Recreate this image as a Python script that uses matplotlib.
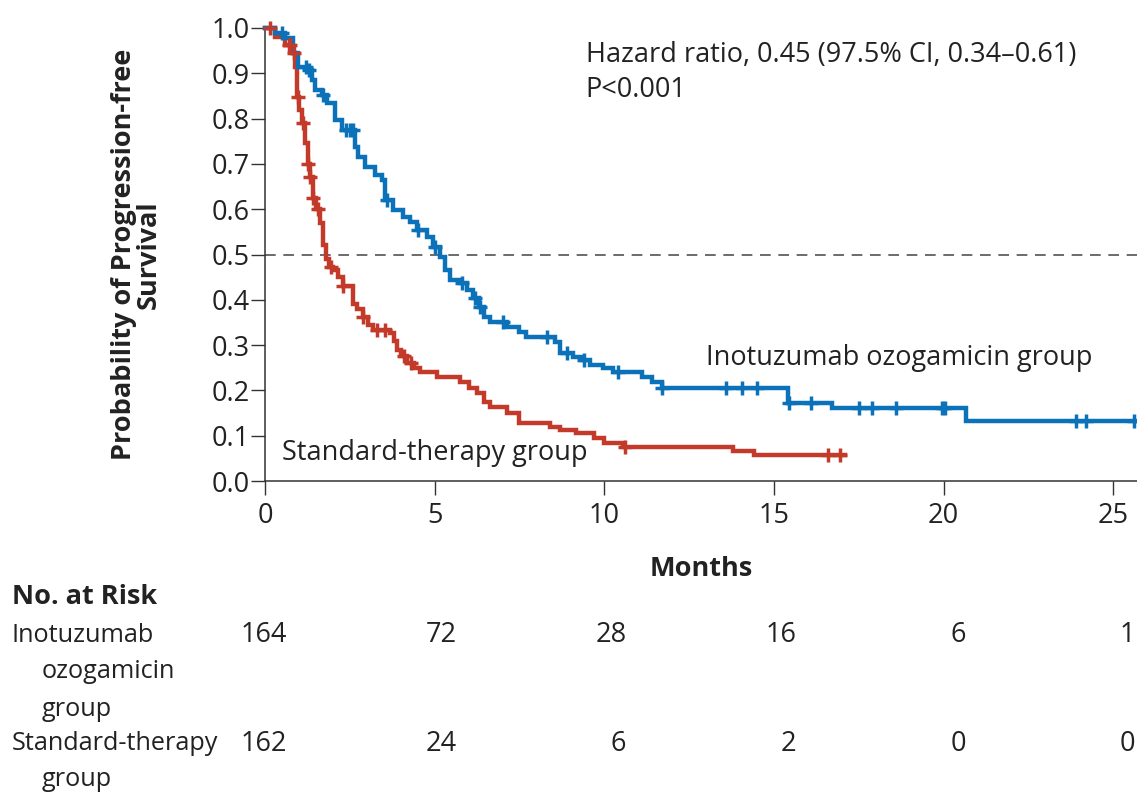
import numpy as np
import matplotlib
matplotlib.use("Agg")
import matplotlib.pyplot as plt

# ==========================================
# DATOS
# ==========================================

# Inotuzumab ozogamicin: tiempos de cada escalon y supervivencia
t_ino = [0, 0.3, 0.6, 0.82, 0.97, 1.24, 1.38, 1.47, 1.68, 1.83,
         2.06, 2.27, 2.65, 2.74, 2.95, 3.24, 3.45, 3.53, 3.77, 4.06,
         4.27, 4.48, 4.77, 4.95, 5.15, 5.3, 5.45, 5.74, 5.95, 6.13,
         6.3, 6.45, 6.63, 7.13, 7.5, 7.7, 8.54, 8.69, 9.07, 9.3,
         9.57, 9.96, 10.25, 11.1, 11.4, 11.7, 15.4, 16.7, 20.65]
s_ino = [1.0, 0.99, 0.978, 0.945, 0.914, 0.907, 0.885, 0.863, 0.852, 0.834,
         0.797, 0.775, 0.737, 0.715, 0.693, 0.675, 0.664, 0.62, 0.598, 0.583,
         0.572, 0.554, 0.539, 0.517, 0.494, 0.466, 0.444, 0.437, 0.422, 0.404,
         0.384, 0.362, 0.351, 0.340, 0.329, 0.318, 0.307, 0.283, 0.274, 0.267,
         0.256, 0.249, 0.241, 0.23, 0.219, 0.205, 0.172, 0.161, 0.133]
cens_ino = [0.5, 1.2, 1.3, 1.7, 2.4, 2.5, 2.6, 3.6, 4.5, 5.0, 5.8, 6.2,
            6.35, 7.0, 8.3, 8.9, 9.4, 10.4, 11.7, 13.6, 14.05, 14.5,
            15.44, 16.1, 17.5, 17.9, 18.6, 19.95, 20.05, 23.9, 24.2, 25.6]
fin_ino = 25.7

# Standard therapy
t_std = [0, 0.3, 0.6, 0.8, 0.88, 0.94, 1.0, 1.09, 1.18, 1.27,
         1.33, 1.41, 1.5, 1.62, 1.72, 1.8, 1.88, 2.0, 2.15, 2.3,
         2.58, 2.7, 2.89, 3.05, 3.18, 3.68, 3.8, 3.88, 4.0, 4.18,
         4.4, 4.57, 5.07, 5.74, 6.0, 6.24, 6.45, 6.63, 7.13, 7.5,
         8.4, 8.7, 9.16, 9.7, 10.0, 10.55, 13.8, 14.4]
s_std = [1.0, 0.98, 0.962, 0.945, 0.914, 0.848, 0.82, 0.79, 0.746, 0.70,
         0.67, 0.625, 0.6, 0.57, 0.52, 0.49, 0.472, 0.466, 0.45, 0.43,
         0.39, 0.38, 0.362, 0.345, 0.333, 0.327, 0.31, 0.29, 0.275, 0.26,
         0.25, 0.24, 0.23, 0.219, 0.205, 0.194, 0.175, 0.163, 0.15, 0.128,
         0.12, 0.112, 0.106, 0.095, 0.084, 0.076, 0.066, 0.057]
cens_std = [0.15, 0.7, 0.75, 0.85, 0.97, 1.12, 1.27, 1.33, 1.41, 1.56,
            1.95, 2.3, 2.9, 3.3, 3.55, 4.1, 4.3, 10.6, 16.6, 16.95]
fin_std = 17.1

# Tabla de pacientes en riesgo
meses_riesgo = [0, 5, 10, 15, 20, 25]
riesgo_ino = [164, 72, 28, 16, 6, 1]
riesgo_std = [162, 24, 6, 2, 0, 0]

# ==========================================
# ESTILO
# ==========================================

plt.rcParams["font.family"] = ["Open Sans", "DejaVu Sans"]
color_txt = "#222222"
azul = "#0b71b8"
rojo = "#c33a2a"
fs = 19.5
fs_tabla = 18.2

W, H = 1137, 795
fig = plt.figure(figsize=(W / 100, H / 100), dpi=100)

x0, x1 = 265, 1137
y_top, y_bot = 28, 481
ax = fig.add_axes([x0 / W, 1 - y_bot / H, (x1 - x0) / W, (y_bot - y_top) / H])


def escalon(t, s, fin):
    t = list(t) + [fin]
    s = list(s) + [s[-1]]
    return t, s


def valor_en(t, s, x):
    i = np.searchsorted(np.array(t), np.array(x), side="right") - 1
    return np.array(s)[i]


for t, s, cens, fin, col in [
    (t_std, s_std, cens_std, fin_std, rojo),
    (t_ino, s_ino, cens_ino, fin_ino, azul),
]:
    tt, ss = escalon(t, s, fin)
    ax.plot(tt, ss, drawstyle="steps-post", color=col, lw=3.2,
            solid_joinstyle="miter", clip_on=False, zorder=3)
    ax.plot(cens, valor_en(t, s, cens), linestyle="none", marker="+",
            markersize=10, mew=2.5, color=col, clip_on=False, zorder=4)

ax.axhline(0.5, color="#444444", lw=1.1, dashes=(7, 5), zorder=1)

ax.set_xlim(0, 25.7)
ax.set_ylim(0, 1.0)
ax.set_xticks([0, 5, 10, 15, 20, 25])
ax.set_yticks(np.arange(0, 1.01, 0.1))
ax.set_yticklabels([f"{v:.1f}" for v in np.arange(0, 1.01, 0.1)])

for lado in ["top", "right"]:
    ax.spines[lado].set_visible(False)
for lado in ["left", "bottom"]:
    ax.spines[lado].set_linewidth(1.1)
    ax.spines[lado].set_color("#333333")

ax.tick_params(axis="both", direction="out", length=10, width=1.0,
               color="#333333", labelsize=fs, labelcolor=color_txt)
ax.tick_params(axis="y", pad=1)
ax.tick_params(axis="x", pad=5)

ax.set_ylabel("Probability of Progression-free\nSurvival", fontsize=fs,
              fontweight="bold", color=color_txt, linespacing=0.95)
ax.yaxis.set_label_coords(-0.118, 0.5)

ax.set_xlabel("Months", fontsize=fs, fontweight="bold", color=color_txt)
ax.xaxis.set_label_coords(0.5, -0.165)

ax.text(9.45, 0.972, "Hazard ratio, 0.45 (97.5% CI, 0.34\u20130.61)\nP<0.001",
        fontsize=fs, color=color_txt, va="top", ha="left", linespacing=1.35)
ax.text(13.0, 0.272, "Inotuzumab ozogamicin group", fontsize=fs,
        color=color_txt, va="center", ha="left")
ax.text(0.5, 0.062, "Standard-therapy group", fontsize=fs,
        color=color_txt, va="center", ha="left")

# ==========================================
# TABLA "NO. AT RISK"
# ==========================================


def fy(py):
    return 1 - py / H


fig.text(12 / W, fy(597), "No. at Risk", fontsize=fs, fontweight="bold",
         color=color_txt, va="center", ha="left")
fig.text(12 / W, fy(635), "Inotuzumab", fontsize=fs_tabla, color=color_txt,
         va="center", ha="left")
fig.text(42 / W, fy(672), "ozogamicin", fontsize=fs_tabla, color=color_txt,
         va="center", ha="left")
fig.text(42 / W, fy(709), "group", fontsize=fs_tabla, color=color_txt,
         va="center", ha="left")
fig.text(12 / W, fy(744), "Standard-therapy", fontsize=fs_tabla, color=color_txt,
         va="center", ha="left")
fig.text(42 / W, fy(780), "group", fontsize=fs_tabla, color=color_txt,
         va="center", ha="left")

trans = matplotlib.transforms.blended_transform_factory(ax.transData, fig.transFigure)
for m, a, b in zip(meses_riesgo, riesgo_ino, riesgo_std):
    ax.text(m + 0.65, fy(635), str(a), fontsize=fs, color=color_txt,
            va="center", ha="right", transform=trans, clip_on=False)
    ax.text(m + 0.65, fy(744), str(b), fontsize=fs, color=color_txt,
            va="center", ha="right", transform=trans, clip_on=False)

fig.savefig("out.png", dpi=100)
